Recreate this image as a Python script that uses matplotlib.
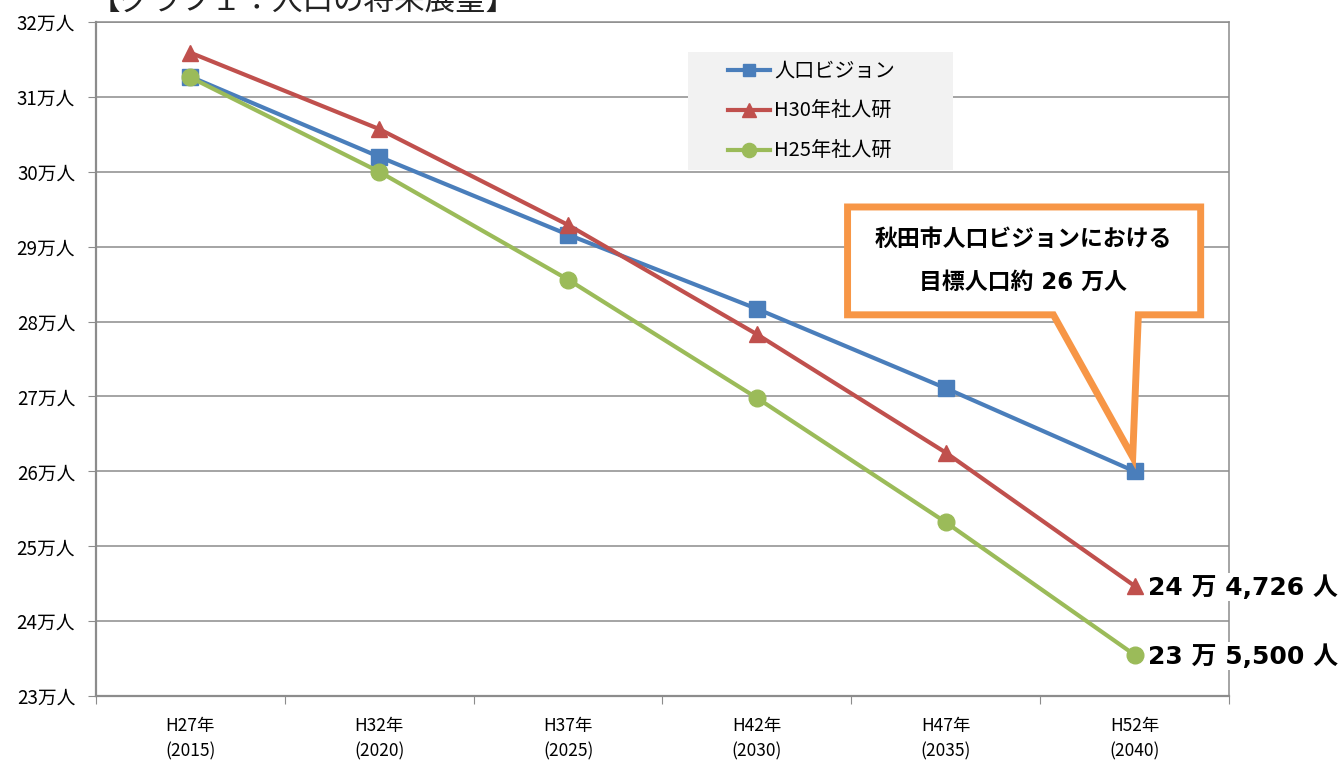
import numpy as np
import matplotlib
matplotlib.use('Agg')
import matplotlib.pyplot as plt
from matplotlib.patches import Polygon, Rectangle

plt.rcParams['font.family'] = ['Noto Sans CJK JP', 'DejaVu Sans']

years = ['H27年\n(2015)', 'H32年\n(2020)', 'H37年\n(2025)',
         'H42年\n(2030)', 'H47年\n(2035)', 'H52年\n(2040)']
# population in 万人
vision = [31.27, 30.20, 29.16, 28.17, 27.11, 26.00]
ipss_h30 = [31.59, 30.57, 29.29, 27.83, 26.25, 24.47]
ipss_h25 = [31.26, 30.00, 28.56, 26.98, 25.32, 23.55]
names = ['人口ビジョン', 'H30年社人研', 'H25年社人研']
end_labels = ['24 万 4,726 人', '23 万 5,500 人']
yticks = np.arange(23, 33)

W, H = 1342, 762
fig = plt.figure(figsize=(W / 100, H / 100), dpi=100)
ax = fig.add_axes([96 / W, 1 - 696 / H, (1229 - 96) / W, (696 - 22) / H])

x = np.arange(len(years))
grid_c = '#8c8c8c'
wide = ['DejaVu Sans', 'Noto Sans CJK JP']

ax.plot(x, vision, color='#4a7ebb', lw=3, marker='s', ms=11, label=names[0], zorder=4)
ax.plot(x, ipss_h30, color='#c0504d', lw=3, marker='^', ms=12, label=names[1], zorder=4)
ax.plot(x, ipss_h25, color='#9bbb59', lw=3, marker='o', ms=12, label=names[2], zorder=4)

ax.set_xlim(-0.5, len(years) - 0.5)
ax.set_ylim(23, 32)
ax.set_yticks(yticks)
ax.set_yticklabels([f'{v}万人' for v in yticks], fontsize=13.5)
ax.yaxis.grid(True, color=grid_c, lw=1.1)
ax.set_axisbelow(True)

# category axis: ticks between categories, labels at centres
ax.set_xticks(np.arange(-0.5, len(years)))
ax.set_xticklabels([])
ax.set_xticks(x, minor=True)
ax.set_xticklabels(years, minor=True, fontsize=12.5)
for lab in ax.get_xticklabels(minor=True):
    lab.set_linespacing(1.55)
ax.tick_params(axis='x', which='minor', length=0, pad=15)
ax.tick_params(axis='x', which='major', length=6, color=grid_c, direction='out')
ax.tick_params(axis='y', length=6, color=grid_c, pad=9)

for s in ax.spines.values():
    s.set_color(grid_c)
    s.set_linewidth(1.1)
ax.spines['left'].set_linewidth(1.6)
ax.spines['bottom'].set_linewidth(1.6)

# legend with grey panel
fig.add_artist(Rectangle((688 / W, 1 - 170 / H), (953 - 688) / W, (170 - 52) / H,
                         transform=fig.transFigure, facecolor='#f2f2f2',
                         edgecolor='none', zorder=3))
leg = fig.legend(loc='upper left', bbox_to_anchor=(728 / W, 1 - 61 / H),
                 frameon=False, fontsize=14.5, handlelength=2.1,
                 handletextpad=0.2, labelspacing=0.95, borderaxespad=0,
                 borderpad=0, markerscale=0.85)
leg.set_zorder(5)

# end value labels
for vals, txt in zip([ipss_h30, ipss_h25], end_labels):
    ax.annotate(txt, xy=(x[-1], vals[-1]), xytext=(10, -1), textcoords='offset points',
                ha='left', va='center', fontsize=18, fontweight='bold', family=wide,
                bbox=dict(facecolor='white', edgecolor='none', pad=1),
                annotation_clip=False, zorder=6)

# callout pointing at the vision target
box = [(3.48, 29.53), (5.35, 29.53), (5.35, 28.09), (5.02, 28.09),
       (x[-1] - 0.01, vision[-1] + 0.19), (4.57, 28.09), (3.48, 28.09)]
ax.add_patch(Polygon(box, closed=True, facecolor='white', edgecolor='#f79646',
                     lw=5, joinstyle='miter', zorder=5))
ax.text(4.41, 29.09, '秋田市人口ビジョンにおける', ha='center', va='center',
        fontsize=16.5, fontweight='bold', zorder=6)
ax.text(4.41, 28.52, '目標人口約 26 万人', ha='center', va='center',
        fontsize=16.5, fontweight='bold', family=wide, zorder=6)

fig.text(90 / W, 1 - 1 / H, '【グラフ１：人口の将来展望】', ha='left', va='center',
         fontsize=22, color='#222222')

fig.savefig('out.png', dpi=100)
